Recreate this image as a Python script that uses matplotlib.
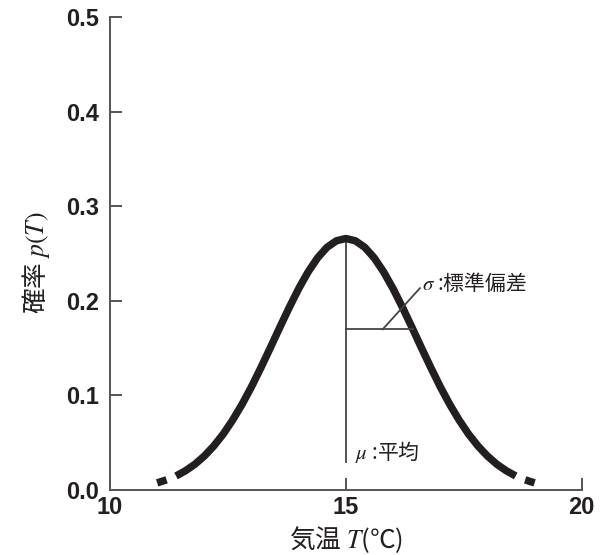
import matplotlib
matplotlib.use("Agg")
import matplotlib.pyplot as plt

# Data (normal curve, mean 15, sigma 1.5)
temps = [11.0, 11.2, 11.4, 11.6, 11.8, 12.0, 12.2, 12.4, 12.6, 12.8,
         13.0, 13.2, 13.4, 13.6, 13.8, 14.0, 14.2, 14.4, 14.6, 14.8,
         15.0,
         15.2, 15.4, 15.6, 15.8, 16.0, 16.2, 16.4, 16.6, 16.8, 17.0,
         17.2, 17.4, 17.6, 17.8, 18.0, 18.2, 18.4, 18.6, 18.8, 19.0]
half = [0.0076, 0.0108, 0.0149, 0.0204, 0.0273, 0.0360, 0.0466, 0.0592,
        0.0740, 0.0907, 0.1093, 0.1295, 0.1506, 0.1721, 0.1931, 0.2130,
        0.2307, 0.2455, 0.2567, 0.2636]
probs = half + [0.2660] + half[::-1]
mean_T = 15.0
sigma_level = 0.17
sigma_end_T = 16.42

xticks = [10, 15, 20]
yticks = [0.0, 0.1, 0.2, 0.3, 0.4, 0.5]

plt.rcParams['mathtext.fontset'] = 'stix'
cjk = ['Noto Sans CJK JP', 'DejaVu Sans']

fig = plt.figure(figsize=(6.01, 5.55), dpi=100)
ax = fig.add_axes([0.183, 0.117, 0.785, 0.852])

lw = 5.4
col = '#231f20'
# left dash, solid body, right dash
ax.plot(temps[0:2], probs[0:2], color=col, lw=lw, solid_capstyle='butt')
ax.plot(temps[2:-2], probs[2:-2], color=col, lw=lw, solid_capstyle='butt',
        solid_joinstyle='round')
ax.plot(temps[-2:], probs[-2:], color=col, lw=lw, solid_capstyle='butt')

# mean line
ax.plot([mean_T, mean_T], [0.03, max(probs)], color='#444444', lw=1.3, zorder=1)
# sigma line
ax.plot([mean_T, sigma_end_T], [sigma_level, sigma_level], color='#444444', lw=1.3)
ax.plot([15.78, 16.57], [sigma_level, 0.2135], color='#444444', lw=1.3)

ax.text(16.62, 0.219, r'$\sigma$ :標準偏差', family=cjk, fontsize=15,
        va='center', ha='left', color='#231f20')
ax.text(15.2, 0.040, r'$\mu$ :平均', family=cjk, fontsize=15,
        va='center', ha='left', color='#231f20')

ax.set_xlim(10, 20)
ax.set_ylim(0, 0.5)
ax.set_xticks(xticks)
ax.set_yticks(yticks)
ax.set_xticklabels([str(t) for t in xticks])
ax.set_yticklabels([f'{t:.1f}' for t in yticks])
for lab in ax.get_xticklabels() + ax.get_yticklabels():
    lab.set_family('Liberation Sans')
    lab.set_fontweight('bold')
    lab.set_fontsize(17)
    lab.set_color('#231f20')

for s in ['top', 'right']:
    ax.spines[s].set_visible(False)
for s in ['left', 'bottom']:
    ax.spines[s].set_color('#555555')
    ax.spines[s].set_linewidth(1.4)
ax.tick_params(axis='both', direction='in', length=8.5, width=1.4,
               color='#555555')
ax.tick_params(axis='y', pad=8)
ax.tick_params(axis='x', pad=4)

ax.set_xlabel('気温 $T$(℃)', family=cjk, fontsize=18.5, color='#231f20')
ax.set_ylabel('確率 $p(T)$', family=cjk, fontsize=18.5, color='#231f20')
ax.xaxis.set_label_coords(0.5, -0.072)
ax.yaxis.set_label_coords(-0.122, 0.48)

fig.savefig('out.png', dpi=100)
